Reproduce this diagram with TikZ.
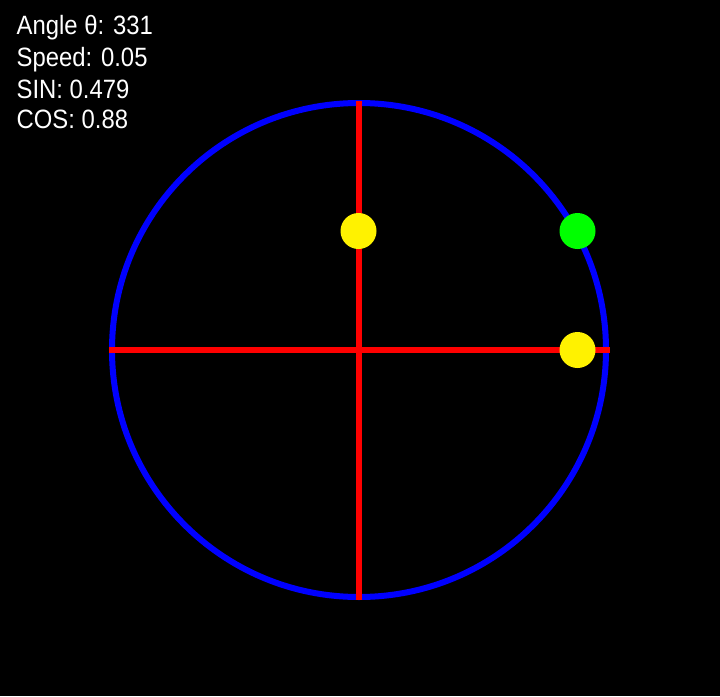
\documentclass[tikz,border=0pt]{standalone}
\usepackage{fontspec}
\newfontfamily\labfont[FakeStretch=0.9]{Liberation Sans}
\begin{document}
\begin{tikzpicture}[x=1pt,y=-1pt,
  lab/.style={text=white,font=\labfont\fontsize{26.5}{30}\selectfont,anchor=base west,inner sep=0pt},
  ring/.style={draw=blue,line width=6pt},
  axis/.style={draw=red,line width=6pt},
  dotY/.style={fill=yellow},
  dotG/.style={fill=green}]
\fill[black] (0,0) rectangle (720,696);
\useasboundingbox (0,0) rectangle (720,696);
\coordinate (c) at (359,350);
\draw[ring] (c) circle[radius=247];
\coordinate (hl) at (109,350);
\coordinate (hr) at (610,350);
\coordinate (vt) at (358.5,101);
\coordinate (vb) at (358.5,600);
\draw[axis] (hl) -- (hr);
\draw[axis] (vt) -- (vb);
\fill[dotG] (577.5,231) circle[radius=18];
\fill[dotY] (358.5,231) circle[radius=18];
\fill[dotY] (577.5,350) circle[radius=18];
\node[lab] (t1) at (16.5,34.5) {Angle θ: 331};
\node[lab] (t2) at (16.5,66) {Speed: 0.05};
\node[lab] (t3) at (16.5,98) {SIN: 0.479};
\node[lab] (t4) at (16.5,128.5) {COS: 0.88};
\end{tikzpicture}
\end{document}
